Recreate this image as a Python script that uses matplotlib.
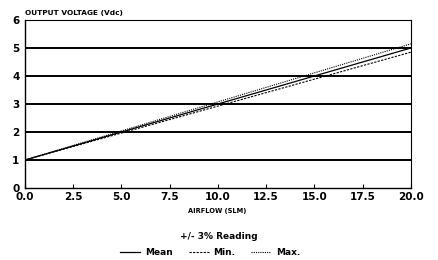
import matplotlib
matplotlib.use('Agg')
import matplotlib.pyplot as plt

# airflow (SLM) and output voltage (Vdc), +/- 3% reading band
airflow = [0.0, 20.0]
v_mean = [1.0, 5.0]
v_min = [1.0, 4.85]
v_max = [1.0, 5.15]

x_ticks = [0.0, 2.5, 5.0, 7.5, 10.0, 12.5, 15.0, 17.5, 20.0]
y_ticks = [0, 1, 2, 3, 4, 5, 6]

plt.rcParams['font.family'] = 'DejaVu Sans'
plt.rcParams['font.weight'] = 'bold'

fig = plt.figure(figsize=(4.38, 2.6), dpi=100)
ax = fig.add_axes([0.057, 0.277, 0.881, 0.646])

# heavy horizontal grid lines
for y in y_ticks[1:-1]:
    ax.axhline(y, color='black', linewidth=1.4, zorder=1)

ax.plot(airflow, v_mean, color='black', linewidth=0.9, linestyle='-', label='Mean', zorder=3)
ax.plot(airflow, v_min, color='black', linewidth=0.8, linestyle=(0, (2, 1.2)), label='Min.', zorder=3)
ax.plot(airflow, v_max, color='black', linewidth=0.8, linestyle=(0, (1, 1)), label='Max.', zorder=3)

ax.set_xlim(0, 20)
ax.set_ylim(0, 6)
ax.set_xticks(x_ticks)
ax.set_xticklabels([f"{t:.1f}" for t in x_ticks], fontsize=7.5, fontweight='bold')
ax.set_yticks(y_ticks)
ax.set_yticklabels([str(t) for t in y_ticks], fontsize=7.5, fontweight='bold')
ax.tick_params(axis='x', direction='in', length=3, width=0.8, pad=3)
ax.tick_params(axis='y', length=0, pad=4)
for s in ax.spines.values():
    s.set_linewidth(0.8)
ax.spines['left'].set_linewidth(1.0)
ax.spines['bottom'].set_linewidth(1.0)

fig.text(0.057, 0.94, 'OUTPUT VOLTAGE (Vdc)', fontsize=5.3, fontweight='bold', ha='left', va='bottom')
fig.text(0.497, 0.19, 'AIRFLOW (SLM)', fontsize=4.8, fontweight='bold', ha='center', va='center')
fig.text(0.5, 0.092, '+/- 3% Reading', fontsize=6.5, fontweight='bold', ha='center', va='center')

leg = ax.legend(loc='center', bbox_to_anchor=(0.48, 0.027), bbox_transform=fig.transFigure,
                ncol=3, frameon=False, fontsize=6.5, handlelength=2.2, columnspacing=1.8,
                handletextpad=0.5, borderpad=0.1)
for t in leg.get_texts():
    t.set_fontweight('bold')

fig.savefig('out.png', dpi=100, facecolor='white')
